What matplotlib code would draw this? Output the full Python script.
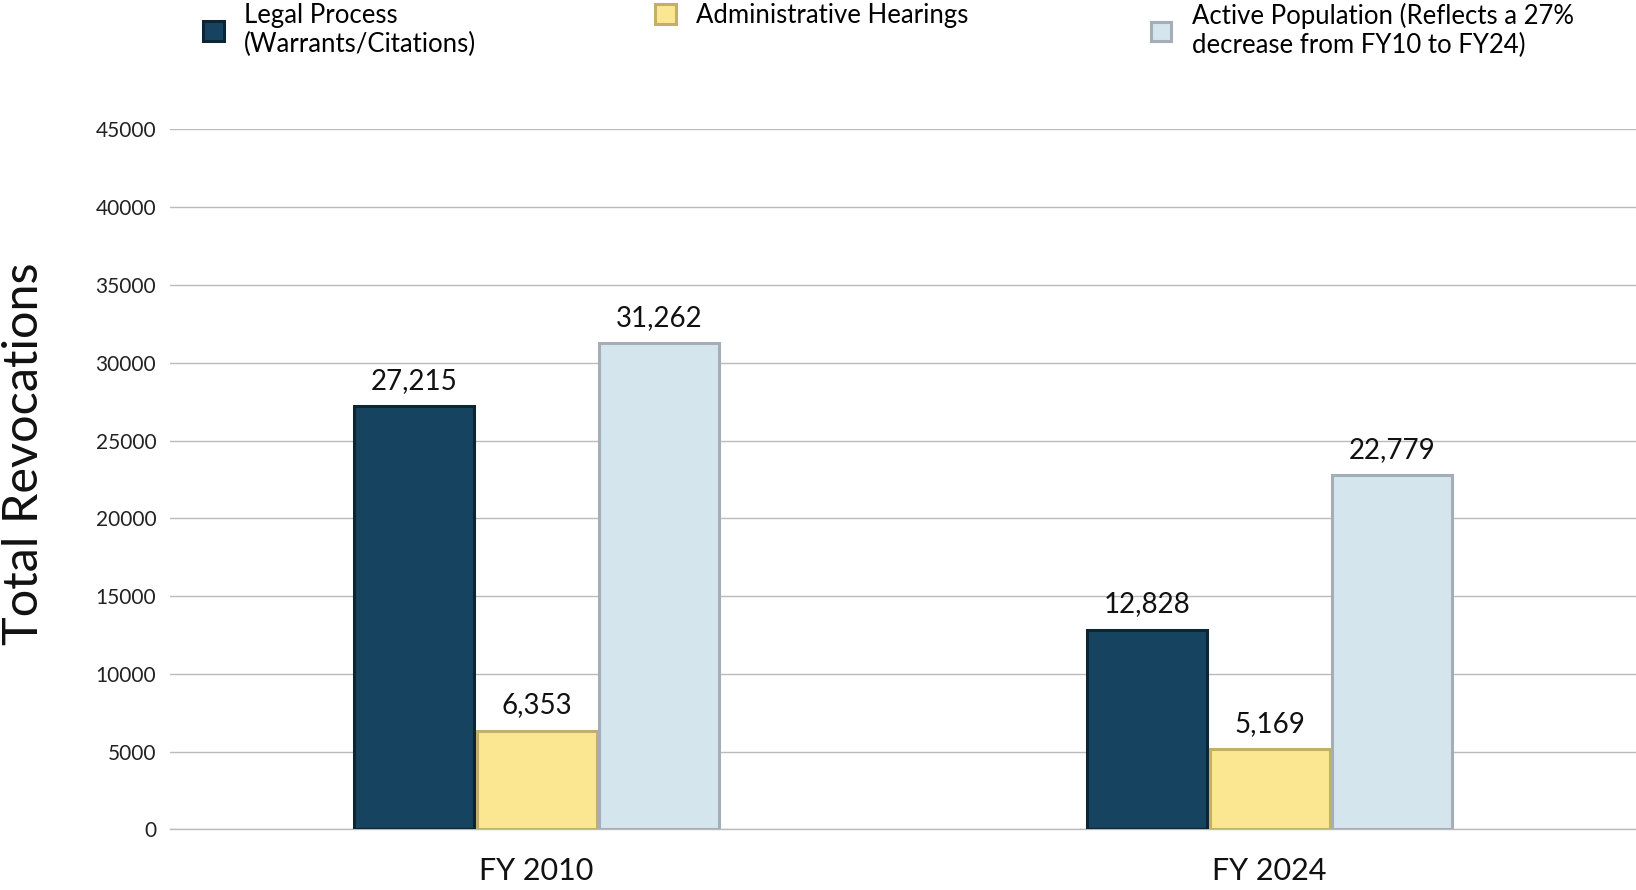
import matplotlib
matplotlib.use("Agg")
import matplotlib.pyplot as plt
import numpy as np
from matplotlib.patches import Patch

plt.rcParams['font.family'] = ['Lato', 'DejaVu Sans']

categories = ["FY 2010", "FY 2024"]
series_names = ["Legal Process\n(Warrants/Citations)",
                "Administrative Hearings",
                "Active Population (Reflects a 27%\ndecrease from FY10 to FY24)"]
legal = [27215, 12828]
admin = [6353, 5169]
active = [31262, 22779]
yticks = [0, 5000, 10000, 15000, 20000, 25000, 30000, 35000, 40000, 45000]

fills = ["#16435f", "#fbe792", "#d5e5ee"]
edges = ["#0d2533", "#c2b06a", "#a3aeb6"]

fig = plt.figure(figsize=(16.36, 8.9), dpi=100)
ax = fig.add_axes([0.104, 0.068, 0.896, 0.7866])

x = np.arange(len(categories))
w = 0.1667
for i, vals in enumerate([legal, admin, active]):
    bars = ax.bar(x + (i - 1) * w, vals, width=w - 0.003, color=fills[i],
                  edgecolor=edges[i], linewidth=2.2, zorder=3)
    ax.bar_label(bars, labels=[f"{v:,}" for v in vals], padding=9,
                 fontsize=20, color="#111111")

ax.set_xlim(-0.5, 1.5)
ax.set_ylim(0, 45000)
ax.set_yticks(yticks)
ax.set_yticklabels([str(t) for t in yticks], fontsize=15, color="#222222")
ax.set_xticks(x)
ax.set_xticklabels(categories, fontsize=22, color="#111111")
ax.tick_params(axis='y', length=0, pad=10)
ax.tick_params(axis='x', length=0, pad=20)
ax.grid(axis='y', color="#bbbbbb", linewidth=1.0, zorder=0)
for s in ["top", "right", "left"]:
    ax.spines[s].set_visible(False)
ax.spines["bottom"].set_color("#bbbbbb")
ax.spines["bottom"].set_linewidth(1.0)

fig.text(24 / 1636, 0.49, "Total Revocations", rotation=90, fontsize=35,
         ha="center", va="center", color="#111111")

legend_x = [193 * 1636 / 1568, 626 * 1636 / 1568, 1101 * 1636 / 1568]
for i in range(3):
    h = Patch(facecolor=fills[i], edgecolor=edges[i], linewidth=2.2)
    fig.legend(handles=[h], labels=[series_names[i]], loc="upper left",
               bbox_to_anchor=(legend_x[i] / 1636 - 0.013, 1.023), frameon=False,
               fontsize=18.5, handlelength=0.8, handleheight=0.8,
               handletextpad=0.8, labelspacing=0.2)

fig.savefig("out.png", dpi=100)
